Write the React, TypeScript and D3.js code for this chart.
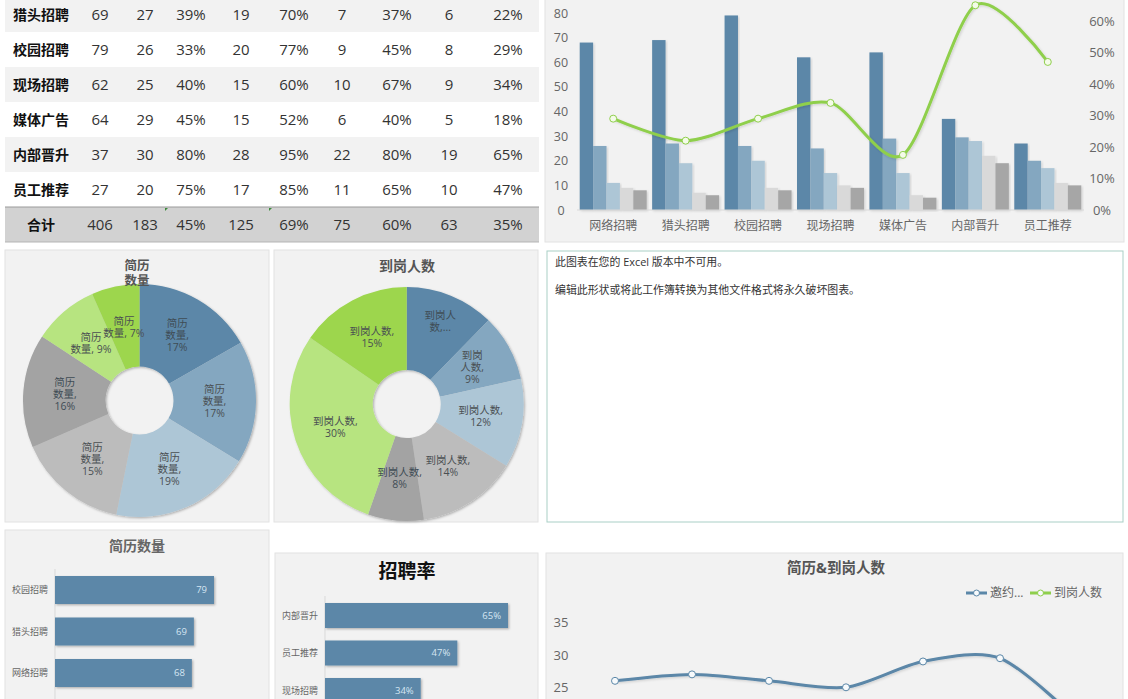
import React, { useEffect, useRef } from "react";
import * as d3 from "d3";

const categories = ["网络招聘", "猎头招聘", "校园招聘", "现场招聘", "媒体广告", "内部晋升", "员工推荐"];
const resumes = [68, 69, 79, 62, 64, 37, 27];
const invited = [26, 27, 26, 25, 29, 29.5, 20];
const interviewed = [11, 19, 20, 15, 15, 28, 17];
const offered = [9, 7, 9, 10, 6, 22, 11];
const arrived = [8, 6, 8, 9, 5, 19, 10];
const hireRate = [29, 22, 29, 34, 17.5, 65, 47];

const tableRows: (string | number)[][] = [
  ["猎头招聘", 69, 27, "39%", 19, "70%", 7, "37%", 6, "22%"],
  ["校园招聘", 79, 26, "33%", 20, "77%", 9, "45%", 8, "29%"],
  ["现场招聘", 62, 25, "40%", 15, "60%", 10, "67%", 9, "34%"],
  ["媒体广告", 64, 29, "45%", 15, "52%", 6, "40%", 5, "18%"],
  ["内部晋升", 37, 30, "80%", 28, "95%", 22, "80%", 19, "65%"],
  ["员工推荐", 27, 20, "75%", 17, "85%", 11, "65%", 10, "47%"],
  ["合计", 406, 183, "45%", 125, "69%", 75, "60%", 63, "35%"],
];

const pieColors = ["#5b87a8", "#84a7c0", "#adc6d6", "#bcbcbc", "#a3a3a3", "#b7e480", "#9dd64e"];
const resumeLabels = [["简历", "数量,", "17%"], ["简历", "数量,", "17%"], ["简历", "数量,", "19%"], ["简历", "数量,", "15%"], ["简历", "数量,", "16%"], ["简历", "数量, 9%"], ["简历", "数量, 7%"]];
const arrivedLabels = [["到岗人", "数,..."], ["到岗", "人数,", "9%"], ["到岗人数,", "12%"], ["到岗人数,", "14%"], ["到岗人数,", "8%"], ["到岗人数,", "30%"], ["到岗人数,", "15%"]];
const arrivedShares = [12.3, 9.2, 12.3, 13.8, 7.7, 29.2, 15.4];
const arrivedLabelRadius = [89, 75, 75, 75, 75, 75, 75];

const resumeTop = ["校园招聘", "猎头招聘", "网络招聘"];
const resumeTopValues = [79, 69, 68];
const rateTop = ["内部晋升", "员工推荐", "现场招聘"];
const rateTopValues = [65, 47, 34];

const leftTicks = [0, 10, 20, 30, 40, 50, 60, 70, 80];
const rightTicks = [0, 10, 20, 30, 40, 50, 60];
const lineTicks = [25, 30, 35];

const FONT = '"Open Sans","Noto Sans CJK SC",sans-serif';
const BLUE = "#5b87a8";
const GREEN = "#8fcf4c";
const barColors = ["#5b87a8", "#84a7c0", "#adc6d6", "#d9d9d9", "#a6a6a6"];

export default function App() {
  const ref = useRef<SVGSVGElement>(null);
  useEffect(() => {
    const svg = d3.select(ref.current!);
    svg.selectAll("*").remove();
    svg.style("font-family", FONT);

    const defs = svg.append("defs");
    const addShadow = (id: string, o: number) => {
      const f = defs.append("filter").attr("id", id).attr("x", "-10%").attr("y", "-10%").attr("width", "125%").attr("height", "125%");
      f.append("feDropShadow").attr("dx", 1.2).attr("dy", 1.2).attr("stdDeviation", 1.2).attr("flood-color", "#000").attr("flood-opacity", o);
    };
    addShadow("sh", 0.28);
    addShadow("shLight", 0.14);

    const panel = (x: number, y: number, w: number, h: number) =>
      svg.append("rect").attr("x", x).attr("y", y).attr("width", w).attr("height", h).attr("fill", "#f2f2f2").attr("stroke", "#e2e2e2");
    const text = (x: number, y: number, s: string | number, size: number, fill: string, anchor = "middle", weight = "400") =>
      svg.append("text").attr("x", x).attr("y", y).attr("dy", "0.36em").attr("text-anchor", anchor).attr("font-size", size).attr("font-weight", weight).attr("fill", fill).text(s);

    // Table
    const colX = [41, 100, 145, 191, 241, 294, 342, 397, 449, 508];
    const rowY = d3.scaleLinear().domain([0, 1]).range([15, 50]);
    tableRows.forEach((row, i) => {
      const total = i === tableRows.length - 1;
      const top = i === 0 ? -3 : rowY(i) - 18;
      const bottom = rowY(i) + 17;
      if (total || i % 2 === 0)
        svg.append("rect").attr("x", 5).attr("y", top).attr("width", 534).attr("height", bottom - top).attr("fill", total ? "#d2d2d2" : "#f2f2f2");
      if (total) {
        svg.append("line").attr("x1", 5).attr("x2", 539).attr("y1", top).attr("y2", top).attr("stroke", "#9a9a9a");
        svg.append("line").attr("x1", 5).attr("x2", 539).attr("y1", bottom).attr("y2", bottom).attr("stroke", "#b5b5b5");
        [165, 269].forEach((gx) =>
          svg.append("path").attr("d", `M${gx},${top + 1}h3l-3,3z`).attr("fill", "#3d8a3d"));
      }
      row.forEach((v, j) => text(colX[j], rowY(i), v, j === 0 ? 14 : 15, j === 0 ? "#111" : "#333", "middle", j === 0 ? "700" : "400"));
    });

    // Combo chart
    panel(545, -2, 579, 244);
    const y0 = d3.scaleLinear().domain([0, 80]).range([210, 13]);
    const y1 = d3.scaleLinear().domain([0, 0.6]).range([210, 21]);
    const gx = d3.scaleBand<string>().domain(categories).range([577, 1084]).paddingInner(0.075).paddingOuter(0.0375);
    const inner = d3.scaleBand<number>().domain([0, 1, 2, 3, 4]).range([0, gx.bandwidth()]);
    leftTicks.forEach((t) => text(561, y0(t), t, 12.5, "#666"));
    rightTicks.forEach((t) => text(1102, y1(t / 100), `${t}%`, 13, "#666"));
    const series = [resumes, invited, interviewed, offered, arrived];
    categories.forEach((c, i) => {
      series.forEach((s, k) => {
        svg.append("rect").attr("x", gx(c)! + inner(k)!).attr("y", y0(s[i])).attr("width", inner.bandwidth()).attr("height", 210 - y0(s[i])).attr("fill", barColors[k]).attr("filter", "url(#shLight)");
      });
      text(gx(c)! + gx.bandwidth() / 2, 226, c, 12, "#666");
    });
    svg.append("line").attr("x1", 577).attr("x2", 1084).attr("y1", 210).attr("y2", 210).attr("stroke", "#d9d9d9");
    const cx = (i: number) => gx(categories[i])! + gx.bandwidth() / 2;
    const smooth = d3.curveCardinal.tension(0.15);
    const rateLine = d3.line<number>().x((_, i) => cx(i)).y((d) => y1(d / 100)).curve(smooth);
    svg.append("path").attr("d", rateLine(hireRate)).attr("fill", "none").attr("stroke", GREEN).attr("stroke-width", 3).attr("filter", "url(#shLight)");
    hireRate.forEach((d, i) => svg.append("circle").attr("cx", cx(i)).attr("cy", y1(d / 100)).attr("r", 3.5).attr("fill", "#f4fbe9").attr("stroke", GREEN).attr("stroke-width", 1));

    // Donuts
    const donut = (px: number, py: number, r: number, vals: number[], labels: string[][], radii?: number[]) => {
      const pie = d3.pie<number>().sort(null)(vals);
      const arc = d3.arc<d3.PieArcDatum<number>>().innerRadius(34).outerRadius(r);
      const g = svg.append("g").attr("transform", `translate(${px},${py})`).attr("filter", "url(#sh)");
      pie.forEach((p, i) => g.append("path").attr("d", arc(p)).attr("fill", pieColors[i]));
      pie.forEach((p, i) => {
        const mid = (p.startAngle + p.endAngle) / 2;
        const lr = radii ? radii[i] : 75;
        const lx = px + Math.sin(mid) * lr;
        const ly = py - Math.cos(mid) * lr;
        const n = labels[i].length;
        labels[i].forEach((s, k) => text(lx, ly + (k - (n - 1) / 2) * 12, s, 10.5, i === 0 || i === 4 ? "#3f4c55" : "#4a4f52"));
      });
    };
    panel(5, 250, 264, 272);
    donut(139.5, 400.5, 116.5, resumes, resumeLabels);
    const title = svg.append("text").attr("text-anchor", "middle").attr("font-size", 12.5).attr("font-weight", 700).attr("fill", "#555");
    title.append("tspan").attr("x", 137).attr("y", 270).text("简历");
    title.append("tspan").attr("x", 137).attr("dy", 14.5).text("数量");
    panel(274, 250, 264, 272);
    text(407, 266, "到岗人数", 14, "#555", "middle", "700");
    donut(406.7, 404, 117, arrivedShares, arrivedLabels, arrivedLabelRadius);

    // Text box
    svg.append("rect").attr("x", 547).attr("y", 251).attr("width", 576).attr("height", 271).attr("fill", "#fff").attr("stroke", "#a9cfc6");
    text(555, 262, "此图表在您的 Excel 版本中不可用。", 10.9, "#333", "start");
    text(555, 290, "编辑此形状或将此工作簿转换为其他文件格式将永久破坏图表。", 10.9, "#333", "start");

    // Horizontal bars
    const hbars = (axisX: number, maxX: number, maxV: number, yFirst: number, step: number, h: number, cats: string[], vals: number[], fmt: (v: number) => string, top: number, labelRight: number) => {
      const x = d3.scaleLinear().domain([0, maxV]).range([axisX, maxX]);
      svg.append("line").attr("x1", axisX).attr("x2", axisX).attr("y1", top).attr("y2", 699).attr("stroke", "#d9d9d9");
      cats.forEach((c, i) => {
        const y = yFirst + i * step;
        svg.append("rect").attr("x", axisX).attr("y", y).attr("width", x(vals[i]) - axisX).attr("height", h).attr("fill", BLUE).attr("filter", "url(#sh)");
        text(labelRight, y + h / 2, c, 9, "#666", "end");
        text(x(vals[i]) - 7, y + h / 2, fmt(vals[i]), 9.5, "#d5e6f2", "end");
      });
    };
    panel(5, 530, 264, 172);
    text(137, 546, "简历数量", 14, "#666", "middle", "700");
    hbars(55, 214, 79, 576, 41.5, 28, resumeTop, resumeTopValues, (v) => `${v}`, 569, 48);
    panel(275, 553, 263, 150);
    text(407, 571, "招聘率", 19, "#111", "middle", "700");
    hbars(325, 508, 65, 603, 37.5, 25, rateTop, rateTopValues, (v) => `${v}%`, 596, 318);

    // Line chart
    panel(546, 553, 577, 150);
    text(836, 568, "简历&到岗人数", 14.5, "#555", "middle", "700");
    const yL = d3.scaleLinear().domain([25, 35]).range([687.3, 622.7]);
    const xL = d3.scalePoint<string>().domain(categories).range([615, 1077]);
    lineTicks.forEach((t) => text(561, yL(t), t, 13, "#666"));
    const ln = d3.line<number>().x((_, i) => xL(categories[i])!).y((d) => yL(d)).curve(smooth);
    const drawLine = (vals: number[], col: string) => {
      svg.append("path").attr("d", ln(vals)).attr("fill", "none").attr("stroke", col).attr("stroke-width", 3).attr("filter", "url(#shLight)");
      vals.forEach((v, i) => svg.append("circle").attr("cx", xL(categories[i])!).attr("cy", yL(v)).attr("r", 3.5).attr("fill", "#f7fafc").attr("stroke", col).attr("stroke-width", 1));
    };
    drawLine(invited, BLUE);
    drawLine(arrived, GREEN);
    const legend = (x1: number, col: string, label: string) => {
      svg.append("line").attr("x1", x1).attr("x2", x1 + 21).attr("y1", 593).attr("y2", 593).attr("stroke", col).attr("stroke-width", 3);
      svg.append("circle").attr("cx", x1 + 10.5).attr("cy", 593).attr("r", 3).attr("fill", "#f7fafc").attr("stroke", col);
      text(x1 + 24, 593, label, 12, "#666", "start");
    };
    legend(966, BLUE, "邀约...");
    legend(1030, GREEN, "到岗人数");
  }, []);
  return <svg ref={ref} width={1128} height={699} style={{ position: "absolute", left: 0, top: 0, background: "#fff" }} />;
}
